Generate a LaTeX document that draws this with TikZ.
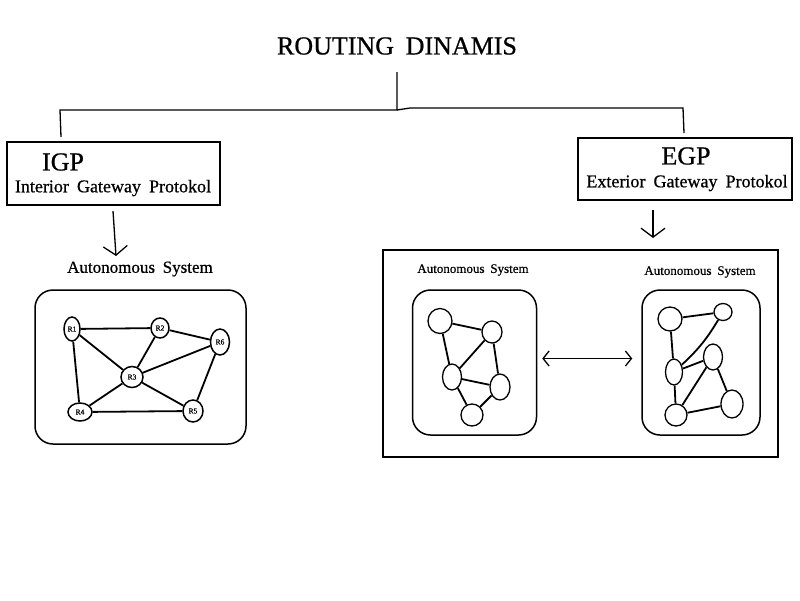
\documentclass[tikz,border=0pt]{standalone}
\usepackage{fontspec}
\setmainfont[WordSpace=1.8,FakeBold=0.7]{Liberation Serif}
\usetikzlibrary{shapes.geometric,arrows.meta}
\begin{document}
\begin{tikzpicture}[x=1pt,y=-1pt,
  box/.style={draw,line width=1.8pt,inner sep=0pt},
  asbox/.style={draw,line width=1.5pt,rounded corners=18pt,inner sep=0pt},
  rt/.style={draw,ellipse,line width=1.5pt,inner sep=0pt,font=\fontsize{7.5}{8}\selectfont},
  nd/.style={draw,ellipse,line width=1.3pt,inner sep=0pt},
  ln/.style={line width=1.8pt},
  tr/.style={line width=1.3pt},
  barb/.style={-{Straight Barb[length=9pt,width=24pt,line width=1.3pt]}},
  dbarb/.style={{Straight Barb[length=6pt,width=15pt,line width=1.3pt]}-{Straight Barb[length=6pt,width=15pt,line width=1.3pt]}}
]
\useasboundingbox (0,0) rectangle (800,600);
% title and tree
\node (title) at (397,46) {\fontsize{26}{30}\selectfont ROUTING DINAMIS};
\coordinate (t0) at (397,72);
\coordinate (j0) at (397,110);
\coordinate (jm) at (410,108);
\coordinate (jl) at (60,110);
\coordinate (jr) at (683,108);
\coordinate (il) at (61,137);
\coordinate (er) at (684,133);
\draw[tr] (t0) -- (j0) -- (jl) -- (il);
\draw[tr] (j0) -- (jm) -- (jr) -- (er);
% IGP
\node[box,minimum width=213,minimum height=63] (igp) at (113.5,173.5) {};
\node (igpt) at (63,162) {\fontsize{26}{30}\selectfont IGP};
\node (igps) at (113,188) {\fontsize{18}{20}\selectfont Interior Gateway Protokol};
% EGP
\node[box,minimum width=214,minimum height=62] (egp) at (685,169) {};
\node (egpt) at (686,156) {\fontsize{26}{30}\selectfont EGP};
\node (egps) at (687,183) {\fontsize{18}{20}\selectfont Exterior Gateway Protokol};
% arrows down
\coordinate (ia) at (113,211);
\coordinate (ib) at (116,256);
\draw[tr,barb] (ia) -- (ib);
\coordinate (ea) at (653,210);
\coordinate (eb) at (653,238);
\draw[tr,barb] (ea) -- (eb);
% left AS
\node (asl) at (140,269) {\fontsize{17}{19}\selectfont Autonomous System};
\node[asbox,minimum width=211,minimum height=154] (lbox) at (140.5,367) {};
\node[rt,minimum width=16,minimum height=24] (R1) at (72,329) {R1};
\node[rt,minimum width=18,minimum height=20] (R2) at (160,328) {R2};
\node[rt,minimum width=19,minimum height=26] (R6) at (220,342) {R6};
\node[rt,minimum width=22,minimum height=21] (R3) at (132,377) {R3};
\node[rt,minimum width=24,minimum height=18] (R4) at (80,412) {R4};
\node[rt,minimum width=20,minimum height=22] (R5) at (193,411) {R5};
\draw[ln] (R1) -- (R2);
\draw[ln] (R1) -- (R3);
\draw[ln] (R1) -- (R4);
\draw[ln] (R2) -- (R3);
\draw[ln] (R2) -- (R6);
\draw[ln] (R6) -- (R3);
\draw[ln] (R6) -- (R5);
\draw[ln] (R3) -- (R4);
\draw[ln] (R3) -- (R5);
\draw[ln] (R4) -- (R5);
% EGP outer box
\node[box,minimum width=395,minimum height=207] (rbox) at (580.5,353.5) {};
\node (asr1) at (473,270) {\fontsize{13}{15}\selectfont Autonomous System};
\node (asr2) at (700,272) {\fontsize{13}{15}\selectfont Autonomous System};
\node[asbox,minimum width=124,minimum height=145] (b1) at (474.5,362.5) {};
\node[asbox,minimum width=118,minimum height=145] (b2) at (701,362.5) {};
\path (b1.east) ++(5,-4) coordinate (da) (b2.west) ++(-9,-4) coordinate (db);
\draw[line width=1.5pt,dbarb] (da) -- (db);
% left graph
\node[nd,minimum width=24,minimum height=25] (A) at (440,321) {};
\node[nd,minimum width=20,minimum height=22] (B) at (492,332) {};
\node[nd,minimum width=19,minimum height=26] (C) at (452,377) {};
\node[nd,minimum width=20,minimum height=26] (D) at (500,387) {};
\node[nd,minimum width=22,minimum height=22] (E) at (472,415) {};
\draw[ln] (A) -- (B);
\draw[ln] (A) -- (C);
\draw[ln] (B) -- (C);
\draw[ln] (B) -- (D);
\draw[ln] (C) -- (D);
\draw[ln] (C) -- (E);
\draw[ln] (D) -- (E);
% right graph
\node[nd,minimum width=24,minimum height=24] (F) at (670,319) {};
\node[nd,minimum width=18,minimum height=17] (G) at (723,312) {};
\node[nd,minimum width=19,minimum height=26] (H) at (713,357) {};
\node[nd,minimum width=17,minimum height=26] (I) at (674,372) {};
\node[nd,minimum width=22,minimum height=22] (J) at (676,415) {};
\node[nd,minimum width=22,minimum height=28] (K) at (732,404) {};
\draw[ln] (F) -- (G);
\draw[ln] (F) -- (I);
\draw[ln] (G) to[bend left=8] (I);
\draw[ln] (I) -- (H);
\draw[ln] (H) -- (J);
\draw[ln] (I) -- (J);
\draw[ln] (J) -- (K);
\draw[ln] (H) -- (K);
\end{tikzpicture}
\end{document}
